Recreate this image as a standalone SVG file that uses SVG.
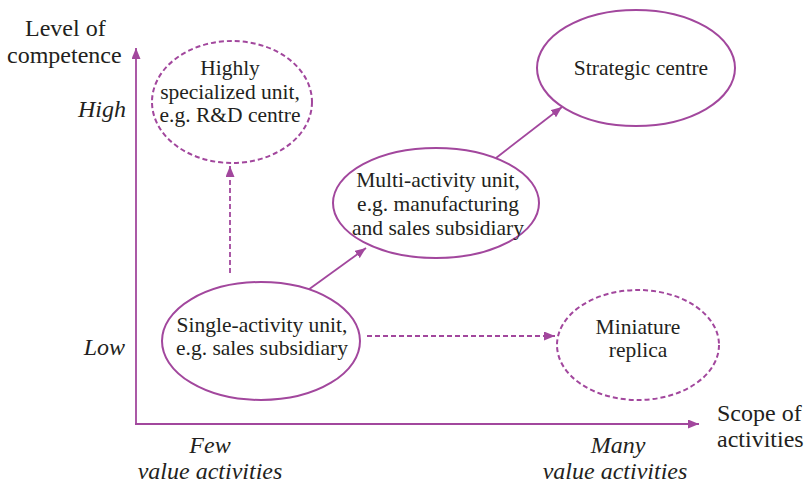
<svg xmlns="http://www.w3.org/2000/svg" width="810" height="486" viewBox="0 0 810 486">
<style>
text{fill:#231f20;font-family:"Liberation Serif","Times New Roman",serif !important}
.t{font-size:24px}
.x{font-size:21.5px;text-anchor:middle}
.i{font-style:italic}
.m{text-anchor:middle}
.n{fill:#fff;stroke:#a2479d;stroke-width:2}
.d{stroke-dasharray:5 3}
.c{stroke:#a2479d;stroke-width:1.8;fill:none}
</style>
<defs>
<marker id="ah" viewBox="0 0 11 9" refX="11" refY="4.5" markerWidth="11" markerHeight="9" markerUnits="userSpaceOnUse" orient="auto"><path d="M0,0L11,4.5L0,9z" fill="#a2479d"/></marker>
</defs>
<rect width="810" height="486" fill="#fff"/>
<g id="axes">
<path class="c" d="M136,424V48" stroke-width="2.4" marker-end="url(#ah)"/>
<path class="c" d="M135,424H699" stroke-width="2.4" marker-end="url(#ah)"/>
<text x="25" y="36" class="t" style="font-family:'Liberation Serif',serif !important">Level of</text>
<text x="7" y="63" class="t" style="font-family:'Liberation Serif',serif !important">competence</text>
<text x="126" y="117" class="t i" text-anchor="end" style="font-family:'Liberation Serif',serif !important">High</text>
<text x="125" y="355" class="t i" text-anchor="end" style="font-family:'Liberation Serif',serif !important">Low</text>
<text x="210" y="453" class="t i m" style="font-family:'Liberation Serif',serif !important">Few</text>
<text x="210" y="479" class="t i m" style="font-family:'Liberation Serif',serif !important">value activities</text>
<text x="618" y="453" class="t i m" style="font-family:'Liberation Serif',serif !important">Many</text>
<text x="615" y="479" class="t i m" style="font-family:'Liberation Serif',serif !important">value activities</text>
<text x="717" y="421" class="t" style="font-family:'Liberation Serif',serif !important">Scope of</text>
<text x="717" y="447" class="t" style="font-family:'Liberation Serif',serif !important">activities</text>
</g>
<g id="connectors">
<path class="c d" d="M230,273V166" marker-end="url(#ah)"/>
<path class="c" d="M308,290L366,248" marker-end="url(#ah)"/>
<path class="c" d="M496,158L562,107" marker-end="url(#ah)"/>
<path class="c d" d="M367,336H555" marker-end="url(#ah)"/>
</g>
<g id="highly">
<ellipse class="n d" cx="232" cy="102" rx="80" ry="61"/>
<text x="230" y="75" class="x" style="font-family:'Liberation Serif',serif !important">Highly</text>
<text x="230" y="99" class="x" style="font-family:'Liberation Serif',serif !important">specialized unit,</text>
<text x="230" y="122" class="x" style="font-family:'Liberation Serif',serif !important">e.g. R&amp;D centre</text>
</g>
<g id="strategic">
<ellipse class="n" cx="636" cy="68" rx="99" ry="58"/>
<text x="641" y="75" class="x" style="font-family:'Liberation Serif',serif !important">Strategic centre</text>
</g>
<g id="multi">
<ellipse class="n" cx="436" cy="203" rx="103" ry="55"/>
<text x="438" y="187" class="x" style="font-family:'Liberation Serif',serif !important">Multi-activity unit,</text>
<text x="438" y="211" class="x" style="font-family:'Liberation Serif',serif !important">e.g. manufacturing</text>
<text x="438" y="235" class="x" style="font-family:'Liberation Serif',serif !important">and sales subsidiary</text>
</g>
<g id="single">
<ellipse class="n" cx="261" cy="341" rx="99" ry="59"/>
<text x="262" y="332" class="x" style="font-family:'Liberation Serif',serif !important">Single-activity unit,</text>
<text x="262" y="355" class="x" style="font-family:'Liberation Serif',serif !important">e.g. sales subsidiary</text>
</g>
<g id="miniature">
<ellipse class="n d" cx="638" cy="345" rx="81" ry="55"/>
<text x="638" y="334" class="x" style="font-family:'Liberation Serif',serif !important">Miniature</text>
<text x="638" y="357" class="x" style="font-family:'Liberation Serif',serif !important">replica</text>
</g>
</svg>
